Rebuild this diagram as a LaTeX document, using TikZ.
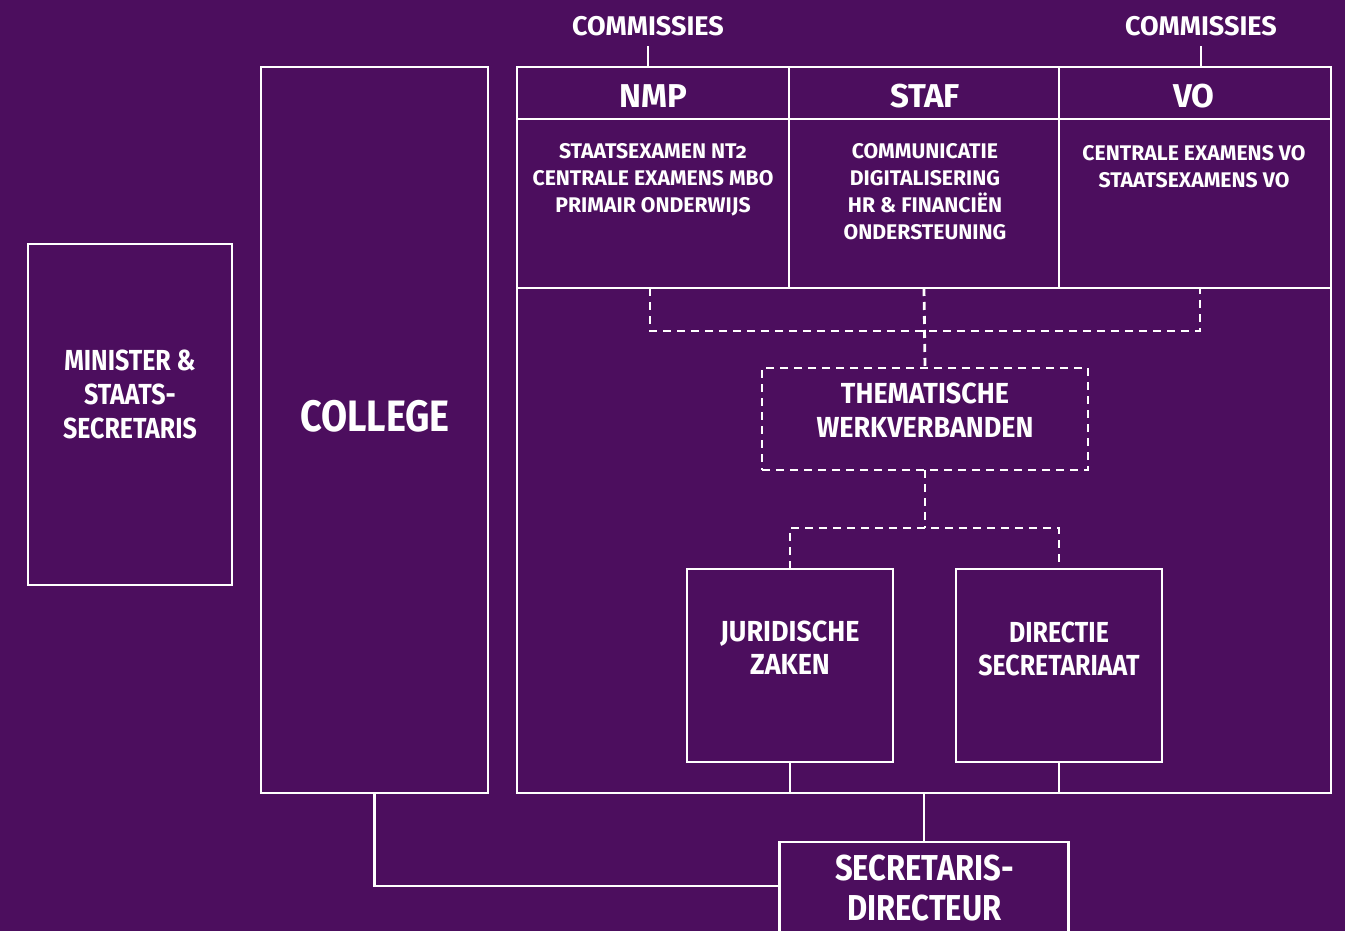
\documentclass[tikz,border=0pt]{standalone}
\usepackage{fontspec}
\setmainfont{Fira Sans}
\newfontfamily\cfont{Fira Sans}[FakeStretch=0.86]
\newfontfamily\mfont{Fira Sans}[FakeStretch=0.93]
\definecolor{bg}{RGB}{76,14,94}
\tikzset{
  ln/.style={draw=white, line width=1.4pt},
  dl/.style={draw=white, line width=1.4pt, dash pattern=on 4pt off 3pt},
  wh/.style 2 args={minimum width=#1*0.5pt, minimum height=#2*0.5pt, inner sep=0pt, outer sep=0pt},
  lbl/.style={text=white, font=\bfseries, align=center, inner sep=0pt},
}
\begin{document}
\begin{tikzpicture}[x=0.5pt, y=-0.5pt]
\fill[bg] (0,0) rectangle (1345,931);
\useasboundingbox (0,0) rectangle (1345,931);
\begin{scope}
\clip (0,0) rectangle (1345,931);
% boxes
\node[ln, wh={204}{341}] (minister) at (130,414.5) {};
\node[ln, wh={227}{726}] (college) at (374.5,430) {};
\node[ln, wh={814}{726}] (big) at (924,430) {};
\node[ln, wh={272}{52}] (nmph) at (653,93) {};
\node[ln, wh={270}{52}] (stafh) at (924,93) {};
\node[ln, wh={272}{52}] (voh) at (1195,93) {};
\node[ln, wh={272}{169}] (nmpc) at (653,203.5) {};
\node[ln, wh={270}{169}] (stafc) at (924,203.5) {};
\node[ln, wh={272}{169}] (voc) at (1195,203.5) {};
\node[dl, wh={326}{102}] (them) at (925,419) {};
\node[ln, wh={206}{193}] (jur) at (790,665.5) {};
\node[ln, wh={206}{193}] (dir) at (1059,665.5) {};
\node[ln, wh={289}{200}] (sec) at (924,942) {};
% texts
\node[lbl, font=\bfseries\fontsize{13.5}{15}\selectfont] (com1) at (648,26) {COMMISSIES};
\node[lbl, font=\bfseries\fontsize{13.5}{15}\selectfont] (com2) at (1201,26) {COMMISSIES};
\node[lbl, font=\bfseries\fontsize{16.5}{18}\selectfont] (nmpt0) at (653,96) {NMP};
\node[lbl, font=\bfseries\fontsize{16.5}{18}\selectfont] (staft0) at (925,96) {STAF};
\node[lbl, font=\bfseries\fontsize{16.5}{18}\selectfont] (vot0) at (1194,96) {VO};
\node[lbl, font=\bfseries\fontsize{10.6}{13.5}\selectfont\addfontfeatures{Numbers=OldStyle}] (nmpt) at (653,180) {STAATSEXAMEN NT2\\CENTRALE EXAMENS MBO\\PRIMAIR ONDERWIJS};
\node[lbl, font=\bfseries\fontsize{10.6}{13.5}\selectfont] (staft) at (925,191.5) {COMMUNICATIE\\DIGITALISERING\\HR \& FINANCIËN\\ONDERSTEUNING};
\node[lbl, font=\bfseries\fontsize{10.6}{13.5}\selectfont] (vot) at (1194,166.5) {CENTRALE EXAMENS VO\\STAATSEXAMENS VO};
\node[lbl, font=\cfont\bfseries\fontsize{14.5}{17}\selectfont] (mint) at (130,394) {MINISTER \&\\STAATS-\\SECRETARIS};
\node[lbl, font=\cfont\bfseries\fontsize{22}{24}\selectfont] (colt) at (375,416) {COLLEGE};
\node[lbl, font=\mfont\bfseries\fontsize{14.5}{17}\selectfont] (themt) at (925,410) {THEMATISCHE\\WERKVERBANDEN};
\node[lbl, font=\mfont\bfseries\fontsize{14.5}{16.5}\selectfont] (jurt) at (790,647.5) {JURIDISCHE\\ZAKEN};
\node[lbl, font=\cfont\bfseries\fontsize{14.5}{16.5}\selectfont] (dirt) at (1059,648.5) {DIRECTIE\\SECRETARIAAT};
\node[lbl, font=\cfont\bfseries\fontsize{18}{20}\selectfont] (sect) at (924.5,888) {SECRETARIS-\\DIRECTEUR};
% solid connectors
\draw[ln] ([yshift=-5pt]com1.south) -- (com1.south |- nmph.north);
\draw[ln] ([yshift=-5pt]com2.south) -- (com2.south |- voh.north);
\draw[ln] (jur.south) -- (jur.south |- big.south);
\draw[ln] (dir.south) -- (dir.south |- big.south);
\draw[ln] (sec.north |- big.south) -- (sec.north);
\draw[ln] (college.south) |- (sec.west |- 0,886);
% dashed connectors
\coordinate (dl1) at (650,331);
\coordinate (dr1) at (1200,331);
\draw[dl] (650,288) -- (dl1) -- (dr1) -- (1200,288);
\draw[dl] (stafc.south) -- (them.north);
\coordinate (dl2) at (790,528);
\coordinate (dr2) at (1059,528);
\draw[dl] (them.south) -- (925,528);
\draw[dl] (jur.north) -- (dl2) -- (dr2) -- (dir.north);
\end{scope}
\end{tikzpicture}
\end{document}
